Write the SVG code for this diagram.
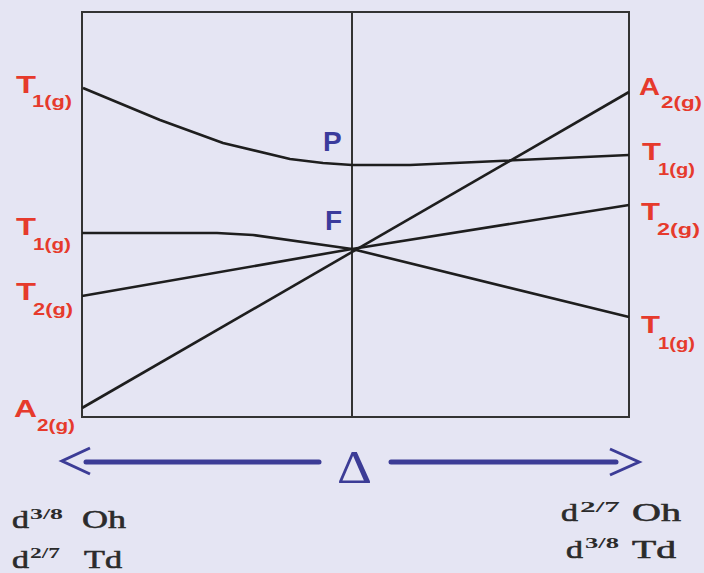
<svg xmlns="http://www.w3.org/2000/svg" width="704" height="573" viewBox="0 0 704 573">
<style>
.frame{fill:none;stroke:#333;stroke-width:2}
.lvl{fill:none;stroke:#1e1e1e;stroke-width:2.6;stroke-linejoin:round}
.big{font-family:"Liberation Sans",Arial,sans-serif;font-weight:bold;font-size:24px;fill:#e63a2c}
.sub{font-family:"Liberation Sans",Arial,sans-serif;font-weight:bold;font-size:17px;fill:#e63a2c}
.pf{font-family:"Liberation Sans",Arial,sans-serif;font-weight:bold;font-size:28px;fill:#3b3b9c}
.d{font-family:"Liberation Serif","Times New Roman",serif;font-size:26px;fill:#2b2b2b;stroke:#2b2b2b;stroke-width:0.6}
.sup{font-family:"Liberation Serif","Times New Roman",serif;font-weight:bold;font-size:14px;fill:#2b2b2b}
.arr{fill:none;stroke:#3c3c96;stroke-width:5;stroke-linecap:round}
.chev{fill:none;stroke:#3c3c96;stroke-width:3}
</style>
<rect width="704" height="573" fill="#e5e5f3"/>
<g id="frame">
<rect class="frame" x="82" y="12" width="547" height="405"/>
<line class="frame" x1="352" y1="12" x2="352" y2="417"/>
</g>
<g id="connectors">
<polyline class="lvl" points="83,88 160,120 223,143 290,159 323,163 352,165 410,165 629,155"/>
<line class="lvl" x1="82" y1="408" x2="629" y2="92"/>
<polyline class="lvl" points="82,233 217,233 253,235 352,249"/>
<line class="lvl" x1="82" y1="296" x2="352" y2="249"/>
<line class="lvl" x1="352" y1="249" x2="629" y2="205"/>
<line class="lvl" x1="352" y1="249" x2="629" y2="317"/>
</g>
<g id="label-left-T1-top"><text class="big" x="16" y="93" textLength="20" lengthAdjust="spacingAndGlyphs">T</text><text class="sub" x="32" y="107" textLength="40" lengthAdjust="spacingAndGlyphs">1(g)</text></g>
<g id="label-left-T1-mid"><text class="big" x="16" y="235" textLength="20" lengthAdjust="spacingAndGlyphs">T</text><text class="sub" x="33" y="250" textLength="38" lengthAdjust="spacingAndGlyphs">1(g)</text></g>
<g id="label-left-T2"><text class="big" x="16" y="300" textLength="20" lengthAdjust="spacingAndGlyphs">T</text><text class="sub" x="33" y="315" textLength="40" lengthAdjust="spacingAndGlyphs">2(g)</text></g>
<g id="label-left-A2"><text class="big" x="14" y="417" textLength="23" lengthAdjust="spacingAndGlyphs">A</text><text class="sub" x="37" y="431" textLength="38" lengthAdjust="spacingAndGlyphs">2(g)</text></g>
<g id="label-right-A2"><text class="big" x="639" y="95" textLength="21" lengthAdjust="spacingAndGlyphs">A</text><text class="sub" x="661" y="108" textLength="41" lengthAdjust="spacingAndGlyphs">2(g)</text></g>
<g id="label-right-T1-top"><text class="big" x="642" y="160" textLength="19" lengthAdjust="spacingAndGlyphs">T</text><text class="sub" x="658" y="175" textLength="37" lengthAdjust="spacingAndGlyphs">1(g)</text></g>
<g id="label-right-T2"><text class="big" x="641" y="220" textLength="19" lengthAdjust="spacingAndGlyphs">T</text><text class="sub" x="657" y="235" textLength="43" lengthAdjust="spacingAndGlyphs">2(g)</text></g>
<g id="label-right-T1-low"><text class="big" x="641" y="333" textLength="19" lengthAdjust="spacingAndGlyphs">T</text><text class="sub" x="658" y="349" textLength="37" lengthAdjust="spacingAndGlyphs">1(g)</text></g>
<g id="label-P"><text class="pf" x="323" y="151">P</text></g>
<g id="label-F"><text class="pf" x="325" y="230">F</text></g>
<g id="delta-axis">
<line class="arr" x1="86" y1="462" x2="319" y2="462"/>
<polyline class="chev" points="90,448 62,461 90,474"/>
<text x="337" y="483" font-family="'Liberation Serif','Times New Roman',serif" font-size="46" fill="#3c3c96" textLength="35" lengthAdjust="spacingAndGlyphs">Δ</text>
<line class="arr" x1="391" y1="462" x2="616" y2="462"/>
<polyline class="chev" points="610,449 639,462 610,475"/>
</g>
<g id="left-config">
<text class="d" x="12" y="528" textLength="17" lengthAdjust="spacingAndGlyphs">d</text><text class="sup" x="30" y="519" textLength="33" lengthAdjust="spacingAndGlyphs">3/8</text><text class="d" x="82" y="528" textLength="44" lengthAdjust="spacingAndGlyphs">Oh</text>
<text class="d" x="12" y="568" textLength="17" lengthAdjust="spacingAndGlyphs">d</text><text class="sup" x="30" y="558" textLength="30" lengthAdjust="spacingAndGlyphs">2/7</text><text class="d" x="84" y="568" textLength="38" lengthAdjust="spacingAndGlyphs">Td</text>
</g>
<g id="right-config">
<text class="d" x="561" y="521" textLength="17" lengthAdjust="spacingAndGlyphs">d</text><text class="sup" x="580" y="512" textLength="40" lengthAdjust="spacingAndGlyphs">2/7</text><text class="d" x="632" y="521" textLength="49" lengthAdjust="spacingAndGlyphs">Oh</text>
<text class="d" x="566" y="558" textLength="17" lengthAdjust="spacingAndGlyphs">d</text><text class="sup" x="585" y="548" textLength="34" lengthAdjust="spacingAndGlyphs">3/8</text><text class="d" x="632" y="558" textLength="44" lengthAdjust="spacingAndGlyphs">Td</text>
</g>
</svg>
